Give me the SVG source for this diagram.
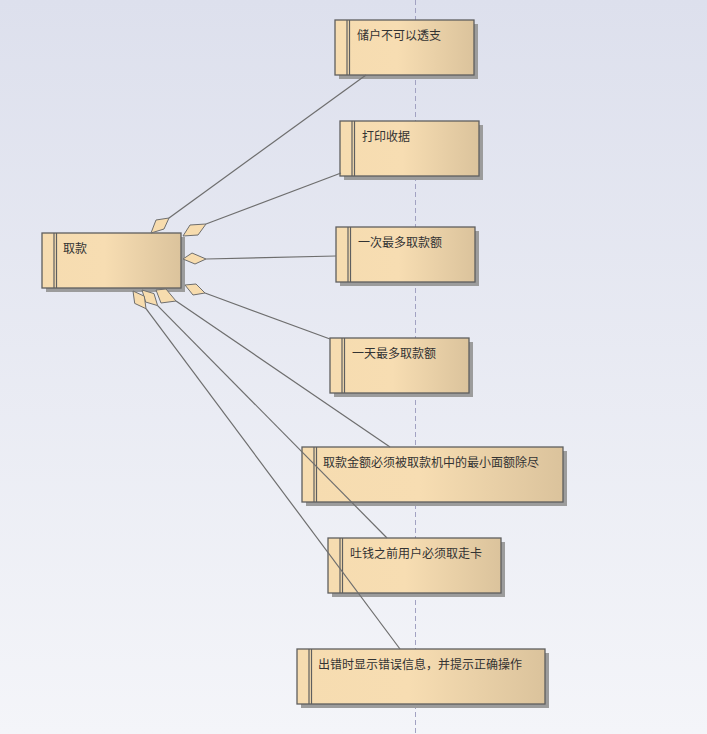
<svg xmlns="http://www.w3.org/2000/svg" width="707" height="734" viewBox="0 0 707 734">
<defs>
<linearGradient id="bg" x1="0" y1="0" x2="0" y2="1">
<stop offset="0" stop-color="#dde0ed"/>
<stop offset="1" stop-color="#f4f5f9"/>
</linearGradient>
<linearGradient id="g" x1="0" y1="0" x2="1" y2="0">
<stop offset="0" stop-color="#f6dcb0"/>
<stop offset="0.45" stop-color="#f7ddb2"/>
<stop offset="1" stop-color="#dbc39c"/>
</linearGradient>
<style>
.box{fill:url(#g);stroke:#5f5f5f;stroke-width:1.3}
.sh{fill:#9c9c9c}
.bar{stroke:#5f5f5f;stroke-width:1.2}
.t{font-family:"Noto Sans CJK SC","Liberation Sans",sans-serif;font-size:12px;fill:#333}
.ln{stroke:#6e6e6e;stroke-width:1.2;fill:none}
.dm{fill:#f7dcae;stroke:#6e6e6e;stroke-width:1}
</style>
</defs>
<rect x="0" y="0" width="707" height="734" fill="url(#bg)"/>
<line x1="415.5" y1="0" x2="415.5" y2="734" stroke="#a2a2c2" stroke-width="1" stroke-dasharray="5,3"/>

<g id="n-main">
<rect class="sh" x="46" y="237" width="139" height="55"/>
<rect class="box" x="42" y="233" width="139" height="55"/>
<line class="bar" x1="54" y1="233" x2="54" y2="288"/>
<line class="bar" x1="56.5" y1="233" x2="56.5" y2="288"/>
<text class="t" x="63" y="253">取款</text>
</g>
<g id="n1">
<rect class="sh" x="339" y="24" width="139" height="55"/>
<rect class="box" x="335" y="20" width="139" height="55"/>
<line class="bar" x1="347" y1="20" x2="347" y2="75"/>
<line class="bar" x1="349.5" y1="20" x2="349.5" y2="75"/>
<text class="t" x="357" y="40">储户不可以透支</text>
</g>
<g id="n2">
<rect class="sh" x="344" y="125" width="139" height="55"/>
<rect class="box" x="340" y="121" width="139" height="55"/>
<line class="bar" x1="352" y1="121" x2="352" y2="176"/>
<line class="bar" x1="354.5" y1="121" x2="354.5" y2="176"/>
<text class="t" x="362" y="141">打印收据</text>
</g>
<g id="n3">
<rect class="sh" x="340" y="231" width="139" height="55"/>
<rect class="box" x="336" y="227" width="139" height="55"/>
<line class="bar" x1="348" y1="227" x2="348" y2="282"/>
<line class="bar" x1="350.5" y1="227" x2="350.5" y2="282"/>
<text class="t" x="358" y="247">一次最多取款额</text>
</g>
<g id="n4">
<rect class="sh" x="334" y="342" width="139" height="55"/>
<rect class="box" x="330" y="338" width="139" height="55"/>
<line class="bar" x1="342" y1="338" x2="342" y2="393"/>
<line class="bar" x1="344.5" y1="338" x2="344.5" y2="393"/>
<text class="t" x="352" y="358">一天最多取款额</text>
</g>
<g id="n5">
<rect class="sh" x="306" y="451" width="261" height="55"/>
<rect class="box" x="302" y="447" width="261" height="55"/>
<line class="bar" x1="314" y1="447" x2="314" y2="502"/>
<line class="bar" x1="316.5" y1="447" x2="316.5" y2="502"/>
<text class="t" x="323" y="467">取款金额必须被取款机中的最小面额除尽</text>
</g>
<g id="n6">
<rect class="sh" x="332" y="542" width="173" height="55"/>
<rect class="box" x="328" y="538" width="173" height="55"/>
<line class="bar" x1="340" y1="538" x2="340" y2="593"/>
<line class="bar" x1="342.5" y1="538" x2="342.5" y2="593"/>
<text class="t" x="350" y="558">吐钱之前用户必须取走卡</text>
</g>
<g id="n7">
<rect class="sh" x="301" y="653" width="248" height="55"/>
<rect class="box" x="297" y="649" width="248" height="55"/>
<line class="bar" x1="309" y1="649" x2="309" y2="704"/>
<line class="bar" x1="311.5" y1="649" x2="311.5" y2="704"/>
<text class="t" x="318" y="669">出错时显示错误信息，并提示正确操作</text>
</g>

<g id="connectors">
<line class="ln" x1="169" y1="218" x2="366" y2="75"/>
<polygon class="dm" points="151,233 156,220 169,218 164,229"/>
<line class="ln" x1="206" y1="224" x2="341" y2="173"/>
<polygon class="dm" points="183,236 190,225 206,224 198,235"/>
<line class="ln" x1="206" y1="259" x2="336" y2="256"/>
<polygon class="dm" points="183,259 192,253 206,259 195,264"/>
<line class="ln" x1="205" y1="293" x2="330" y2="339"/>
<polygon class="dm" points="185,285 196,284 205,293 193,295"/>
<line class="ln" x1="176" y1="301" x2="390" y2="447"/>
<polygon class="dm" points="156,290 166,289 176,301 161,303"/>
<line class="ln" x1="157.6" y1="305.6" x2="387" y2="538"/>
<polygon class="dm" points="142,290 154,293.6 157.6,305.6 145.6,302"/>
<line class="ln" x1="146" y1="308.7" x2="400" y2="649"/>
<polygon class="dm" points="133,291 144.3,296.2 146,308.7 134.7,303.4"/>
</g>
</svg>
